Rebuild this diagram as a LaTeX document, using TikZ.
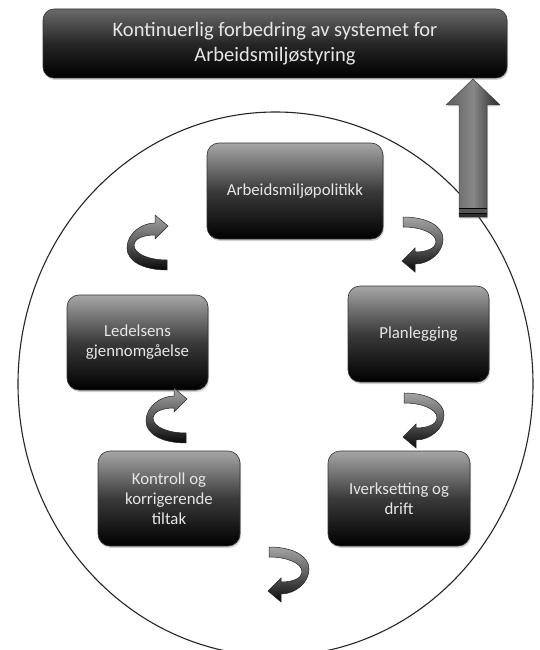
\documentclass[tikz,border=0pt]{standalone}
\usepackage{fontspec}
\setmainfont{Carlito}
\usetikzlibrary{shadows}
\definecolor{boxtop}{HTML}{A6A6A6}
\definecolor{boxmid}{HTML}{3A3A3A}
\definecolor{toptop}{HTML}{6A6A6A}
\definecolor{topmid}{HTML}{262626}
\definecolor{txt}{HTML}{E6E6E6}
\definecolor{arrL}{HTML}{5E5E5E}
\definecolor{arrM}{HTML}{888888}
\definecolor{arrR}{HTML}{262626}
\definecolor{curlT}{HTML}{A4A4A4}
\definecolor{curlM}{HTML}{5C5C5C}
\definecolor{curlB}{HTML}{080808}
\definecolor{stripeG}{HTML}{555555}
\definecolor{stripeD}{HTML}{2E2E2E}
\tikzset{
  phase/.style={rounded corners=12pt, draw=black!80, line width=0.6pt,
    top color=boxtop, bottom color=black, middle color=boxmid,
    text=txt, align=center, font=\fontsize{16.8}{20}\selectfont,
    inner sep=2pt,
    drop shadow={opacity=0.35, shadow xshift=1pt, shadow yshift=-2pt}},
  headbox/.style={rounded corners=11pt, draw=black!80, line width=0.6pt,
    top color=toptop, bottom color=black, middle color=topmid,
    text=txt, align=center, font=\fontsize{20.5}{25.5}\selectfont,
    inner sep=2pt, minimum width=464pt, minimum height=69pt,
    drop shadow={opacity=0.35, shadow xshift=1pt, shadow yshift=-2pt}},
  curl/.pic={
    \shade[draw=black!85, line width=0.5pt, top color=curlT, bottom color=curlB, middle color=curlM]
      (0,0) .. controls (24,0) and (40,9) .. (40,22)
      .. controls (40,36) and (26,47) .. (12,47)
      -- (12,55) -- (-1,44) -- (12,31) -- (12,35)
      .. controls (24,35) and (33,31) .. (33,25)
      .. controls (33,16) and (18,10) .. (0,10) -- cycle;
  }
}
\begin{document}
\begin{tikzpicture}[x=1pt,y=-1pt]
\useasboundingbox (0,0) rectangle (539,650);
\fill[white] (0,0) rectangle (539,650);
\clip (0,0) rectangle (539,650);

% cycle ellipse
\draw[line width=1.1pt, black!85] (275.5,384) ellipse [x radius=257.5, y radius=272];

% top box
\node[headbox] (top) at (275,43.5) {Kontinuerlig forbedring av systemet for\\Arbeidsmiljøstyring};

% phase boxes
\node[phase, minimum width=176pt, minimum height=96pt] (pol) at (295,191) {Arbeidsmiljøpolitikk};
\node[phase, minimum width=141pt, minimum height=96pt] (plan) at (418.5,334) {Planlegging};
\node[phase, minimum width=142pt, minimum height=95pt] (iver) at (399,498.5) {Iverksetting og\\drift};
\node[phase, minimum width=142pt, minimum height=95pt] (kont) at (169,498.5) {Kontroll og\\korrigerende\\tiltak};
\node[phase, minimum width=141pt, minimum height=95pt] (led) at (137.5,342.5) {Ledelsens\\gjennomgåelse};

% curved arrows
\pic at (403,217) {curl};
\pic at (404,393) {curl};
\pic at (269,547) {curl};
\pic[rotate=180] at (186,443) {curl};
\pic[rotate=180] at (167,270) {curl};

% block arrow up to top box
\draw[draw=black!75, line width=0.5pt, left color=arrL, right color=arrR, middle color=arrM,
      drop shadow={opacity=0.3, shadow xshift=1pt, shadow yshift=-1.5pt}]
  (473,79) -- (500,105) -- (487,105) -- (487,217) -- (459,217) -- (459,105) -- (446,105) -- cycle;
\fill[stripeG] (459.3,209) rectangle (486.7,213);
\fill[stripeD] (459.3,214) rectangle (486.7,216.7);
\draw[black, line width=0.9pt] (459.3,208.6) -- (486.7,208.6);
\draw[black, line width=1.1pt] (459.3,213.6) -- (486.7,213.6);
\end{tikzpicture}
\end{document}
